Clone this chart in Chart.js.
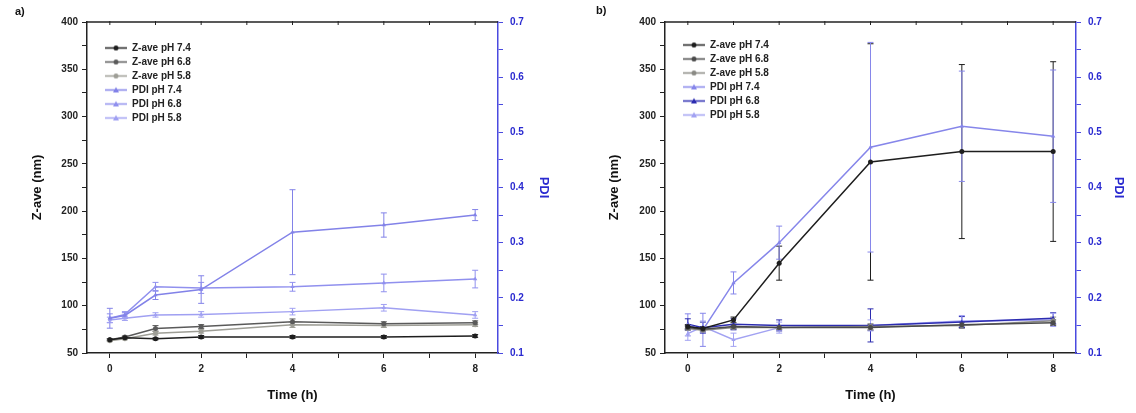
<!DOCTYPE html>
<html><head><meta charset="utf-8">
<script src="https://cdn.jsdelivr.net/npm/chart.js@4.4.1/dist/chart.umd.min.js"></script>
<style>
html,body{margin:0;padding:0;background:#fff;width:1136px;height:413px;overflow:hidden}
.panel{position:absolute;top:0;width:568px;height:413px}
.lbl{position:absolute;font:bold 11px "Liberation Sans",Arial,sans-serif;color:#111}
</style></head><body>
<div class="panel" style="left:0"><canvas id="ca" width="568" height="413"></canvas></div>
<div class="panel" style="left:568px"><canvas id="cb" width="568" height="413"></canvas></div>
<div class="lbl" style="left:15px;top:5px">a)</div>
<div class="lbl" style="left:596px;top:4px">b)</div>
<script>
// ---- data ----
const times = [0, 0.33, 1, 2, 4, 6, 8];
const xTickValues = [0, 1, 2, 3, 4, 5, 6, 7, 8];
const zTickValues = [50, 75, 100, 125, 150, 175, 200, 225, 250, 275, 300, 325, 350, 375, 400];
const pdiTickValues = [0.1, 0.15, 0.2, 0.25, 0.3, 0.35, 0.4, 0.45, 0.5, 0.55, 0.6, 0.65, 0.7];

const labelsA = ["Z-ave pH 7.4", "Z-ave pH 6.8", "Z-ave pH 5.8", "PDI pH 7.4", "PDI pH 6.8", "PDI pH 5.8"];
const labelsB = ["Z-ave pH 7.4", "Z-ave pH 6.8", "Z-ave pH 5.8", "PDI pH 7.4", "PDI pH 6.8", "PDI pH 5.8"];

const zaveA_74 = [64, 66, 65, 67, 67, 67, 68];
const zaveA_68 = [64, 67, 76, 78, 83, 81, 82];
const zaveA_58 = [63, 65, 71, 73, 80, 79, 80];
const pdiA_74 = [0.163, 0.168, 0.205, 0.215, 0.319, 0.332, 0.35];
const pdiA_68 = [0.163, 0.170, 0.220, 0.218, 0.220, 0.227, 0.234];
const pdiA_58 = [0.160, 0.163, 0.169, 0.170, 0.175, 0.182, 0.169];
const zaveErrA_74 = [1, 1, 1, 1.5, 1.5, 1.5, 1.5];
const zaveErrA_68 = [1, 1, 3, 2, 3, 2, 2];
const zaveErrA_58 = [1, 1, 2, 2, 3, 2, 2];
const pdiErrA_74 = [0.018, 0.005, 0.008, 0.025, 0.077, 0.022, 0.01];
const pdiErrA_68 = [0.008, 0.005, 0.008, 0.01, 0.008, 0.016, 0.016];
const pdiErrA_58 = [0.005, 0.004, 0.004, 0.005, 0.006, 0.006, 0.006];

const zaveB_74 = [78, 76, 85, 145, 252, 263, 263];
const zaveB_68 = [77, 75, 78, 77, 77, 80, 82];
const zaveB_58 = [76, 74, 77, 77, 78, 79, 84];
const pdiB_74 = [0.151, 0.142, 0.227, 0.300, 0.473, 0.511, 0.493];
const pdiB_68 = [0.152, 0.146, 0.152, 0.150, 0.150, 0.156, 0.163];
const pdiB_58 = [0.135, 0.148, 0.124, 0.146, 0.150, 0.158, 0.160];
const zaveErrB_74 = [2, 2, 3, 18, 125, 92, 95];
const zaveErrB_68 = [2, 2, 2, 2, 3, 3, 3];
const zaveErrB_58 = [2, 2, 2, 2, 3, 3, 4];
const pdiErrB_74 = [0.02, 0.03, 0.02, 0.03, 0.19, 0.10, 0.12];
const pdiErrB_68 = [0.01, 0.01, 0.01, 0.01, 0.03, 0.01, 0.01];
const pdiErrB_58 = [0.012, 0.01, 0.012, 0.01, 0.01, 0.01, 0.012];

// ---- styles ----
const FONT = '"Liberation Sans", Arial, sans-serif';
const zColorsA = ['#1e1e1e', '#5a5a5a', '#9e9e96'];
const pColorsA = ['#8282e8', '#9090ee', '#a0a0f2'];
const zColorsB = ['#1e1e1e', '#4a4a4a', '#8a8a84'];
const pColorsB = ['#8686ea', '#2c2cb0', '#a2a2f2'];

function pts(vals) { return times.map((t, i) => ({ x: t, y: vals[i] })); }

function legendIcon(color, style) {
  const c = document.createElement('canvas');
  c.width = 36; c.height = 9;
  const g = c.getContext('2d');
  g.strokeStyle = color; g.lineWidth = 1.5;
  g.beginPath(); g.moveTo(14, 4.5); g.lineTo(36, 4.5); g.stroke();
  g.fillStyle = color;
  g.beginPath();
  if (style === 'circle') { g.arc(25, 4.5, 2.5, 0, Math.PI * 2); }
  else { g.moveTo(25, 1.5); g.lineTo(28, 7); g.lineTo(22, 7); g.closePath(); }
  g.fill();
  return c;
}

const errorBars = {
  id: 'errorBars',
  beforeDatasetsDraw(chart) {
    const ctx = chart.ctx;
    chart.data.datasets.forEach((ds, i) => {
      if (!ds.errors) return;
      const meta = chart.getDatasetMeta(i);
      const ys = chart.scales[ds.yAxisID];
      ctx.save();
      ctx.strokeStyle = ds.borderColor; ctx.lineWidth = 1;
      meta.data.forEach((p, j) => {
        const v = ds.data[j].y, e = ds.errors[j];
        if (!e) return;
        const y1 = ys.getPixelForValue(v + e), y2 = ys.getPixelForValue(v - e);
        ctx.beginPath();
        ctx.moveTo(p.x, y1); ctx.lineTo(p.x, y2);
        ctx.moveTo(p.x - 3, y1); ctx.lineTo(p.x + 3, y1);
        ctx.moveTo(p.x - 3, y2); ctx.lineTo(p.x + 3, y2);
        ctx.stroke();
      });
      ctx.restore();
    });
  }
};

const topAxis = {
  id: 'topAxis',
  afterDraw(chart) {
    const { ctx, chartArea: a, scales: { x } } = chart;
    ctx.save();
    ctx.strokeStyle = '#222'; ctx.lineWidth = 1.5;
    ctx.beginPath(); ctx.moveTo(a.left, a.top); ctx.lineTo(a.right, a.top); ctx.stroke();
    ctx.lineWidth = 1;
    xTickValues.forEach(v => {
      const px = x.getPixelForValue(v);
      ctx.beginPath(); ctx.moveTo(px, a.top - 1); ctx.lineTo(px, a.top + 3); ctx.stroke();
    });
    ctx.restore();
  }
};

function legendShift(dy) {
  return {
    id: 'legendShift',
    beforeDraw(chart) {
      const lg = chart.legend;
      if (!lg) return;
      lg.top = chart.chartArea.top + dy;
      lg.bottom = lg.top + lg.height;
    }
  };
}

function makePanel(id, labels, zSets, pSets, zErr, pErr, zCols, pCols, geo) {
  const datasets = [];
  zSets.forEach((s, i) => datasets.push({
    label: labels[i], data: pts(s), errors: zErr[i], yAxisID: 'y',
    borderColor: zCols[i], backgroundColor: zCols[i], borderWidth: 1.5,
    pointStyle: 'circle', pointRadius: 2.5, pointBorderWidth: 0, tension: 0, iconStyle: 'circle'
  }));
  pSets.forEach((s, i) => datasets.push({
    label: labels[3 + i], data: pts(s), errors: pErr[i], yAxisID: 'y2',
    borderColor: pCols[i], backgroundColor: pCols[i], borderWidth: 1.5,
    pointStyle: 'triangle', pointRadius: 2.5, pointBorderWidth: 0, tension: 0, iconStyle: 'triangle'
  }));
  const tickFont = { family: FONT, size: 10, weight: 'bold' };
  const titleFont = { family: FONT, size: 13, weight: 'bold' };
  return new Chart(document.getElementById(id), {
    type: 'line',
    data: { datasets },
    plugins: [errorBars, topAxis, legendShift(geo.legendDy)],
    options: {
      responsive: false, animation: false,
      layout: { padding: { top: 22, left: 0, right: 0, bottom: 0 } },
      plugins: {
        tooltip: { enabled: false },
        legend: {
          position: 'chartArea', align: 'start',
          labels: {
            usePointStyle: true, pointStyleWidth: 36, boxHeight: 8, padding: 4,
            color: '#222', font: { family: FONT, size: 10, weight: 'bold' },
            generateLabels: (chart) => chart.data.datasets.map((ds, i) => ({
              text: ds.label, datasetIndex: i, pointStyle: legendIcon(ds.borderColor, ds.iconStyle),
              fillStyle: ds.borderColor, strokeStyle: ds.borderColor, lineWidth: 0, hidden: false, fontColor: '#222'
            }))
          }
        }
      },
      scales: {
        x: {
          type: 'linear', position: 'bottom', min: -0.5, max: 8.5,
          afterBuildTicks: s => { s.ticks = xTickValues.map(v => ({ value: v })); },
          afterFit: s => { s.height = 60; },
          ticks: { color: '#222', padding: 5, font: tickFont,
            callback: v => (v % 2 === 0 ? String(v) : ''), maxRotation: 0, autoSkip: false },
          grid: { drawOnChartArea: false, tickLength: 5, color: '#222' },
          border: { color: '#222', width: 1.5 },
          title: { display: true, text: 'Time (h)', color: '#111', font: titleFont, padding: { top: 0, bottom: 10 } }
        },
        y: {
          type: 'linear', position: 'left', min: 50, max: 400,
          afterBuildTicks: s => { s.ticks = zTickValues.map(v => ({ value: v })); },
          afterFit: s => { s.width = geo.leftW; },
          ticks: { color: '#222', padding: 4, font: tickFont,
            callback: v => (v % 50 === 0 ? String(v) : ''), autoSkip: false },
          grid: { drawOnChartArea: false, tickLength: 5, color: '#222' },
          border: { color: '#222', width: 1.5 },
          title: { display: true, text: 'Z-ave (nm)', color: '#111', font: titleFont, padding: { top: geo.leftTitle, bottom: 0 } }
        },
        y2: {
          type: 'linear', position: 'right', min: 0.1, max: 0.7,
          afterBuildTicks: s => { s.ticks = pdiTickValues.map(v => ({ value: v })); },
          afterFit: s => { s.width = geo.rightW; },
          ticks: { color: '#2a2ad0', padding: 7, font: tickFont,
            callback: v => (Math.abs(v * 10 - Math.round(v * 10)) < 1e-6 ? v.toFixed(1) : ''), autoSkip: false },
          grid: { drawOnChartArea: false, tickLength: 5, color: '#4a4ae0' },
          border: { color: '#4a4ae0', width: 1.5 },
          title: { display: true, text: 'PDI', color: '#2a2ad0', font: titleFont, padding: { top: geo.rightTitle, bottom: 0 } }
        }
      }
    }
  });
}

makePanel('ca', labelsA, [zaveA_74, zaveA_68, zaveA_58], [pdiA_74, pdiA_68, pdiA_58],
  [zaveErrA_74, zaveErrA_68, zaveErrA_58], [pdiErrA_74, pdiErrA_68, pdiErrA_58],
  zColorsA, pColorsA, { leftW: 87, rightW: 70, leftTitle: 30, rightTitle: 17, legendDy: 17 });
makePanel('cb', labelsB, [zaveB_74, zaveB_68, zaveB_58], [pdiB_74, pdiB_68, pdiB_58],
  [zaveErrB_74, zaveErrB_68, zaveErrB_58], [pdiErrB_74, pdiErrB_68, pdiErrB_58],
  zColorsB, pColorsB, { leftW: 97, rightW: 60, leftTitle: 39, rightTitle: 10, legendDy: 14 });
</script>
</body></html>
